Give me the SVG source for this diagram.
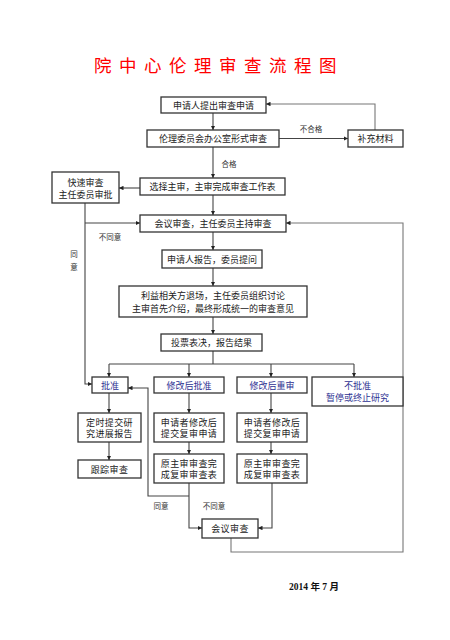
<svg xmlns="http://www.w3.org/2000/svg" width="450" height="640" viewBox="0 0 450 640">
<defs>
<marker id="ah" viewBox="0 0 10 10" refX="10" refY="5" markerWidth="4.5" markerHeight="4.5" orient="auto" markerUnits="userSpaceOnUse">
<path d="M0,0 L10,5 L0,10 z" fill="#222"/>
</marker>
</defs>
<style>
.box{fill:#fff;stroke:#333;stroke-width:1.3}
.t{font-family:"Noto Sans CJK SC","Liberation Sans",sans-serif;font-size:9px;fill:#222;text-anchor:middle;dominant-baseline:central}
.b{fill:#2e3192}
.lbl{font-family:"Noto Sans CJK SC","Liberation Sans",sans-serif;font-size:7.5px;fill:#333;text-anchor:middle;dominant-baseline:central}
.c{fill:none;stroke:#444;stroke-width:1.1}
.g{fill:none;stroke:#777;stroke-width:1.1}
.a{marker-end:url(#ah)}
</style>
<rect width="450" height="640" fill="#fff"/>
<text x="219" y="64" font-family="'Noto Sans CJK SC',sans-serif" font-size="17.5" fill="#ff0000" text-anchor="middle" dominant-baseline="central" letter-spacing="7.5">院中心伦理审查流程图</text>

<g id="connectors">
<path class="c a" d="M213,113 V130"/>
<path class="c a" d="M279,138.5 H348"/>
<path class="g a" d="M375,130 V104 H266"/>
<path class="c a" d="M213,147 V178"/>
<path class="c a" d="M140,188 H119"/>
<path class="c a" d="M213,195 V215"/>
<path class="c a" d="M85,203 V384 H92"/>
<path class="c a" d="M85,223 H140"/>
<path class="g a" d="M231,538 V552 H403 V223 H286"/>
<path class="c a" d="M213,232 V250"/>
<path class="c a" d="M213,268 V286"/>
<path class="c a" d="M213,317 V334"/>
<path class="c" d="M213,351 V364 M109,364 H354"/>
<path class="c a" d="M109,364 V377"/>
<path class="c a" d="M189,364 V377"/>
<path class="c a" d="M271,364 V377"/>
<path class="c a" d="M354,364 V377"/>
<path class="c a" d="M109,393 V413"/>
<path class="c a" d="M109,442 V460"/>
<path class="c a" d="M189,393 V413"/>
<path class="c a" d="M189,442 V454"/>
<path class="c a" d="M271,393 V413"/>
<path class="c a" d="M271,442 V454"/>
<path class="c a" d="M189,483 V528 H202"/>
<path class="c a" d="M189,496 H148 V388 H128"/>
<path class="c a" d="M272,483 V528 H258"/>
<text class="lbl" x="311" y="128">不合格</text>
<text class="lbl" x="229" y="163">合格</text>
<text class="lbl" x="110" y="236">不同意</text>
<text class="lbl" x="74" y="253">同</text>
<text class="lbl" x="74" y="266">意</text>
<text class="lbl" x="161" y="505">同意</text>
<text class="lbl" x="214" y="505">不同意</text>
</g>

<g id="n1"><rect class="box" x="161" y="97" width="105" height="16"/><text class="t" x="213.5" y="105">申请人提出审查申请</text></g>
<g id="n2"><rect class="box" x="147" y="130" width="132" height="17"/><text class="t" x="213" y="138.5">伦理委员会办公室形式审查</text></g>
<g id="n3"><rect class="box" x="348" y="130" width="55" height="17"/><text class="t" x="375.5" y="138.5">补充材料</text></g>
<g id="n4"><rect class="box" x="140" y="178" width="145" height="17"/><text class="t" x="212.5" y="186.5">选择主审，主审完成审查工作表</text></g>
<g id="n5"><rect class="box" x="52" y="172" width="67" height="31"/><text class="t" x="85.5" y="182">快速审查</text><text class="t" x="85.5" y="194">主任委员审批</text></g>
<g id="n6"><rect class="box" x="140" y="215" width="146" height="17"/><text class="t" x="213" y="223.5">会议审查，主任委员主持审查</text></g>
<g id="n7"><rect class="box" x="162" y="250" width="100" height="18"/><text class="t" x="212" y="259">申请人报告，委员提问</text></g>
<g id="n8"><rect class="box" x="119" y="286" width="188" height="31"/><text class="t" x="213" y="295.5">利益相关方退场，主任委员组织讨论</text><text class="t" x="213" y="308">主审首先介绍，最终形成统一的审查意见</text></g>
<g id="n9"><rect class="box" x="161" y="334" width="101" height="17"/><text class="t" x="211.5" y="342.5">投票表决，报告结果</text></g>
<g id="n10"><rect class="box" x="92" y="377" width="36" height="16"/><text class="t b" x="110" y="385">批准</text></g>
<g id="n11"><rect class="box" x="154" y="377" width="70" height="16"/><text class="t b" x="189" y="385">修改后批准</text></g>
<g id="n12"><rect class="box" x="237" y="377" width="70" height="16"/><text class="t b" x="272" y="385">修改后重审</text></g>
<g id="n13"><rect class="box" x="312" y="377" width="91" height="29"/><text class="t b" x="357.5" y="385.5">不批准</text><text class="t b" x="357.5" y="397">暂停或终止研究</text></g>
<g id="n14"><rect class="box" x="78" y="413" width="63" height="29"/><text class="t" x="109.5" y="422" letter-spacing="0.4">定时提交研</text><text class="t" x="109.5" y="433.5" letter-spacing="0.4">究进展报告</text></g>
<g id="n15"><rect class="box" x="78" y="460" width="63" height="18"/><text class="t" x="109.5" y="469" letter-spacing="0.4">跟踪审查</text></g>
<g id="n16"><rect class="box" x="154" y="413" width="70" height="29"/><text class="t" x="189" y="422" letter-spacing="0.4">申请者修改后</text><text class="t" x="189" y="433.5" letter-spacing="0.4">提交复审申请</text></g>
<g id="n17"><rect class="box" x="154" y="454" width="70" height="29"/><text class="t" x="189" y="463" letter-spacing="0.4">原主审审查完</text><text class="t" x="189" y="474.5" letter-spacing="0.4">成复审审查表</text></g>
<g id="n18"><rect class="box" x="237" y="413" width="70" height="29"/><text class="t" x="272" y="422" letter-spacing="0.4">申请者修改后</text><text class="t" x="272" y="433.5" letter-spacing="0.4">提交复审申请</text></g>
<g id="n19"><rect class="box" x="237" y="454" width="70" height="29"/><text class="t" x="272" y="463" letter-spacing="0.4">原主审审查完</text><text class="t" x="272" y="474.5" letter-spacing="0.4">成复审审查表</text></g>
<g id="n20"><rect class="box" x="202" y="519" width="56" height="19"/><text class="t" x="230" y="528.5" letter-spacing="0.4">会议审查</text></g>

<text x="314" y="587" font-family="'Liberation Serif','Noto Sans CJK SC',serif" font-size="9.5" font-weight="bold" fill="#111" text-anchor="middle" dominant-baseline="central">2014 年 7 月</text>
</svg>
